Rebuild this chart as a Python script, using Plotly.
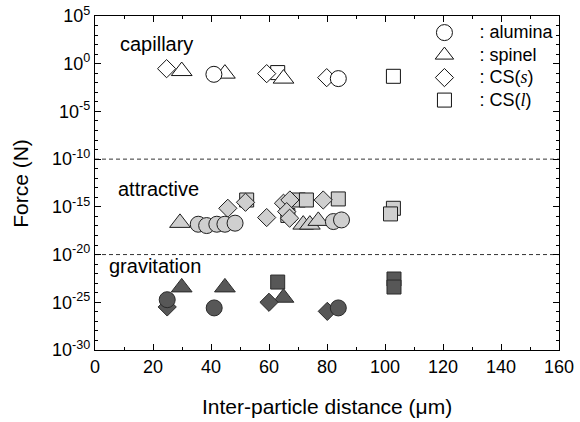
import numpy as np
import plotly.graph_objects as go

# ---------------- data (inter-particle distance in um, log10 of force in N) ----------------
materials = ["alumina", "spinel", "CS(s)", "CS(l)"]
NB = "\u00a0\u00a0\u00a0"
SERIF_I = "<span style=\"font-family:Liberation Serif\"><i>{}</i></span>"
legend_names = [NB + ": alumina", NB + ": spinel",
                NB + ": CS(" + SERIF_I.format("s") + ")",
                NB + ": CS(" + SERIF_I.format("l") + ")"]
symbols = ["circle", "triangle-up", "diamond", "square"]
sizes = [16, 18, 14, 14]

# capillary force
cap_alumina_x = [41.0, 83.9]
cap_alumina_logF = [-1.11, -1.56]
cap_spinel_x = [29.9, 44.8, 65.0]
cap_spinel_logF = [-0.77, -1.04, -1.56]
cap_css_x = [24.7, 59.2, 79.9]
cap_css_logF = [-0.52, -1.04, -1.46]
cap_csl_x = [63.0, 102.9]
cap_csl_logF = [-0.93, -1.32]

# attractive force
att_alumina_x = [35.6, 38.5, 42.0, 44.8, 48.3, 82.2, 85.0]
att_alumina_logF = [-16.82, -16.96, -16.82, -16.82, -16.71, -16.54, -16.37]
att_spinel_x = [29.3, 71.8, 74.1, 77.0]
att_spinel_logF = [-16.68, -16.86, -16.86, -16.47]
att_css_x = [45.8, 51.9, 59.2, 65.0, 67.2, 66.1, 67.1, 78.7]
att_css_logF = [-15.15, -14.52, -16.12, -14.62, -14.28, -15.5, -16.19, -14.28]
att_csl_x = [52.3, 66.5, 70.1, 72.9, 83.9, 102.9, 101.9]
att_csl_logF = [-14.28, -15.9, -14.28, -14.28, -14.17, -15.15, -15.74]

# gravitational force
grav_alumina_x = [24.9, 41.1, 83.9]
grav_alumina_logF = [-24.73, -25.59, -25.59]
grav_spinel_x = [29.9, 44.8, 65.0]
grav_spinel_logF = [-23.44, -23.44, -24.52]
grav_css_x = [24.9, 60.0, 80.1]
grav_css_logF = [-25.49, -25.0, -25.95]
grav_csl_x = [63.0, 103.1, 103.1]
grav_csl_logF = [-22.88, -22.56, -23.40]

boundary_logF = [-10, -20]

x_ticks = [0, 20, 40, 60, 80, 100, 120, 140, 160]
y_tick_exp = [5, 0, -5, -10, -15, -20, -25, -30]

FONT = "Liberation Sans, Arial, sans-serif"

groups = [
    ("capillary", "white", "#111111",
     [(cap_alumina_x, cap_alumina_logF), (cap_spinel_x, cap_spinel_logF),
      (cap_css_x, cap_css_logF), (cap_csl_x, cap_csl_logF)]),
    ("attractive", "#cfcfcf", "#1e1e1e",
     [(att_alumina_x, att_alumina_logF), (att_spinel_x, att_spinel_logF),
      (att_css_x, att_css_logF), (att_csl_x, att_csl_logF)]),
    ("gravitation", "#575757", "#2a2a2a",
     [(grav_alumina_x, grav_alumina_logF), (grav_spinel_x, grav_spinel_logF),
      (grav_css_x, grav_css_logF), (grav_csl_x, grav_csl_logF)]),
]

draw_order = [3, 1, 2, 0]  # squares, triangles, diamonds, circles

fig = go.Figure()

# dashed boundaries
for b in boundary_logF:
    fig.add_trace(go.Scatter(x=[0, 160], y=[10.0 ** b, 10.0 ** b], mode="lines",
                             line=dict(color="#333333", width=1, dash="4px,3px"),
                             showlegend=False, hoverinfo="skip"))

for gname, fill, edge, data in groups:
    for i in draw_order:
        xs, ls = data[i]
        fig.add_trace(go.Scatter(
            x=xs, y=(10.0 ** np.array(ls)).tolist(), mode="markers",
            name="<span style=\"font-size:18px\">" + legend_names[i] + "</span>",
            legendrank=i + 1,
            showlegend=(gname == "capillary"),
            marker=dict(symbol=symbols[i], size=sizes[i], color=fill,
                        line=dict(color=edge, width=1)),
        ))

ann_font = dict(family=FONT, size=20, color="black")
fig.add_annotation(text="capillary", xref="paper", yref="paper", x=0.049, y=0.915,
                   xanchor="left", yanchor="middle", showarrow=False, font=ann_font)
fig.add_annotation(text="attractive", xref="paper", yref="paper", x=0.045, y=0.482,
                   xanchor="left", yanchor="middle", showarrow=False, font=ann_font)
fig.add_annotation(text="gravitation", xref="paper", yref="paper", x=0.025, y=0.252,
                   xanchor="left", yanchor="middle", showarrow=False, font=ann_font)

title_font = dict(family=FONT, size=21, color="black")
fig.add_annotation(text="Inter-particle distance (\u03bcm)", xref="paper", yref="paper",
                   x=0.5, y=-0.169, xanchor="center", yanchor="middle",
                   showarrow=False, font=title_font)
fig.add_annotation(text="Force (N)", xref="paper", yref="paper",
                   x=-0.162, y=0.5, xanchor="center", yanchor="middle", textangle=-90,
                   showarrow=False, font=title_font)

fig.update_layout(
    width=580, height=422,
    margin=dict(l=95, r=21, t=15.5, b=71.5),
    paper_bgcolor="white", plot_bgcolor="white",
    font=dict(family=FONT, size=18, color="black"),
    showlegend=True,
    legend=dict(x=0.71, y=0.999, xanchor="left", yanchor="top",
                bgcolor="rgba(0,0,0,0)", borderwidth=0,
                font=dict(family=FONT, size=15, color="black"),
                tracegroupgap=0, itemsizing="trace"),
)

fig.update_xaxes(range=[0, 160], tickvals=x_ticks, ticktext=[str(v) for v in x_ticks],
                 ticks="inside", ticklen=6, tickwidth=1, tickcolor="black",
                 minor=dict(dtick=10, tick0=0, ticks="inside", ticklen=3, tickcolor="black"),
                 showline=True, linecolor="black", linewidth=1.2, mirror="allticks",
                 showgrid=False, zeroline=False, automargin=False,
                 tickfont=dict(family=FONT, size=18))
fig.update_yaxes(type="log", range=[-30, 5],
                 tickvals=[10.0 ** e for e in y_tick_exp],
                 ticktext=["10<sup>%d</sup>" % e for e in y_tick_exp],
                 ticks="inside", ticklen=6, tickwidth=1, tickcolor="black",
                 minor=dict(dtick=1, ticks="inside", ticklen=3, tickcolor="black"),
                 showline=True, linecolor="black", linewidth=1.2, mirror="allticks",
                 showgrid=False, zeroline=False, automargin=False,
                 tickfont=dict(family=FONT, size=18))

fig.write_html("out.html", config={"displayModeBar": False},
               post_script="document.body.style.margin='0';document.body.style.padding='0';")
